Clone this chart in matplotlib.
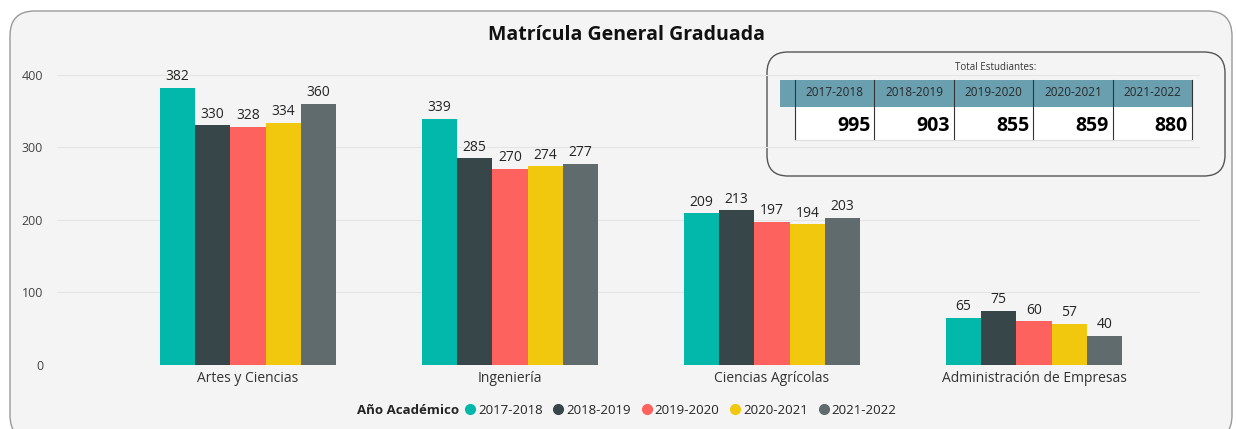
import matplotlib.pyplot as plt
import numpy as np
from matplotlib.patches import FancyBboxPatch, Rectangle
from matplotlib.lines import Line2D

plt.rcParams['font.family'] = ['Open Sans', 'DejaVu Sans']

categories = ["Artes y Ciencias", "Ingeniería", "Ciencias Agrícolas", "Administración de Empresas"]
years = ["2017-2018", "2018-2019", "2019-2020", "2020-2021", "2021-2022"]
v2017 = [382, 339, 209, 65]
v2018 = [330, 285, 213, 75]
v2019 = [328, 270, 197, 60]
v2020 = [334, 274, 194, 57]
v2021 = [360, 277, 203, 40]
totals = [995, 903, 855, 859, 880]
colors = ["#01B8AA", "#374649", "#FD625E", "#F2C80F", "#5F6B6D"]

W, H = 1236, 429
fig = plt.figure(figsize=(W / 100, H / 100), dpi=100)
fig.patch.set_facecolor("white")


def fx(px):
    return px / W


def fy(py):
    return 1 - py / H


# background panel
panel = FancyBboxPatch((fx(10), fy(440)), fx(1222), fy(11) - fy(440),
                       boxstyle="round,pad=0,rounding_size=0.02",
                       transform=fig.transFigure, facecolor="#f4f4f4",
                       edgecolor="#9a9a9a", linewidth=1.0, mutation_aspect=W / H,
                       zorder=-5)
fig.patches.append(panel)

ax = fig.add_axes([fx(57), fy(365), fx(1200) - fx(57), fy(58) - fy(365)])
ax.set_zorder(2)
ax.set_facecolor("none")
series = [v2017, v2018, v2019, v2020, v2021]
x = np.arange(len(categories))
bw = 0.135
for i, vals in enumerate(series):
    xs = x + (i - 2) * bw
    bars = ax.bar(xs, vals, width=bw, color=colors[i], zorder=3)
    for b, v in zip(bars, vals):
        ax.text(b.get_x() + b.get_width() / 2, v + 5, str(v), ha="center", va="bottom",
                fontsize=10, color="#252423")

ax.set_xlim((57 - 248) / 262, (1200 - 248) / 262)
ax.set_ylim(0, 423)
ax.set_yticks([0, 100, 200, 300, 400])
ax.tick_params(axis="y", length=0, labelsize=9, colors="#444444", pad=10)
ax.tick_params(axis="x", length=0, labelsize=10, colors="#333333", pad=4)
ax.set_xticks(x)
ax.set_xticklabels(categories)
ax.grid(axis="y", color="#e4e4e4", linewidth=0.8, zorder=0)
for s in ax.spines.values():
    s.set_visible(False)

fig.text(fx(627), fy(35), "Matrícula General Graduada", ha="center", va="center",
         fontsize=14, fontweight="bold", color="#111111")

# totals card
card = FancyBboxPatch((fx(767), fy(176)), fx(1225) - fx(767), fy(52) - fy(176),
                      boxstyle="round,pad=0,rounding_size=0.017",
                      transform=fig.transFigure, facecolor="none",
                      edgecolor="#555555", linewidth=1.0, mutation_aspect=W / H)
fig.patches.append(card)
fig.text(fx(996), fy(68), "Total Estudiantes:", ha="center", va="center",
         fontsize=7, color="#333333")
fig.patches.append(Rectangle((fx(795), fy(140)), fx(1192) - fx(795), fy(107) - fy(140),
                             transform=fig.transFigure, facecolor="white",
                             edgecolor="none"))
fig.patches.append(Rectangle((fx(780), fy(107)), fx(1192) - fx(780), fy(80) - fy(107),
                             transform=fig.transFigure, facecolor="#6a9fb0",
                             edgecolor="none"))
col_edges = [795 + 79.4 * k for k in range(6)]
for k in range(6):
    xe = col_edges[k]
    fig.add_artist(Line2D([fx(xe), fx(xe)], [fy(80), fy(140)],
                          transform=fig.transFigure, color="#333333", linewidth=0.8))
fig.add_artist(Line2D([fx(795), fx(1192)], [fy(140), fy(140)],
                      transform=fig.transFigure, color="#dddddd", linewidth=0.8))
for k, (yr, tot) in enumerate(zip(years, totals)):
    cx = (col_edges[k] + col_edges[k + 1]) / 2
    fig.text(fx(cx), fy(93), yr, ha="center", va="center", fontsize=8.5, color="#2a2a2a")
    fig.text(fx(col_edges[k + 1] - 4), fy(126), str(tot), ha="right", va="center",
             fontsize=14, fontweight="bold", color="black")

# legend
fig.text(fx(459), fy(410), "Año Académico", ha="right", va="center",
         fontsize=9.5, fontweight="bold", color="#252423")
handles = [Line2D([], [], marker="o", linestyle="none", markersize=7,
                  markerfacecolor=c, markeredgecolor=c) for c in colors]
fig.legend(handles, years, loc="center left", bbox_to_anchor=(fx(462), fy(410)),
           ncol=5, frameon=False, fontsize=9.5, handletextpad=0.0,
           columnspacing=0.6, handlelength=1.2, borderaxespad=0, borderpad=0,
           labelcolor="#252423")

fig.savefig("out.png", dpi=100, facecolor=fig.get_facecolor())
